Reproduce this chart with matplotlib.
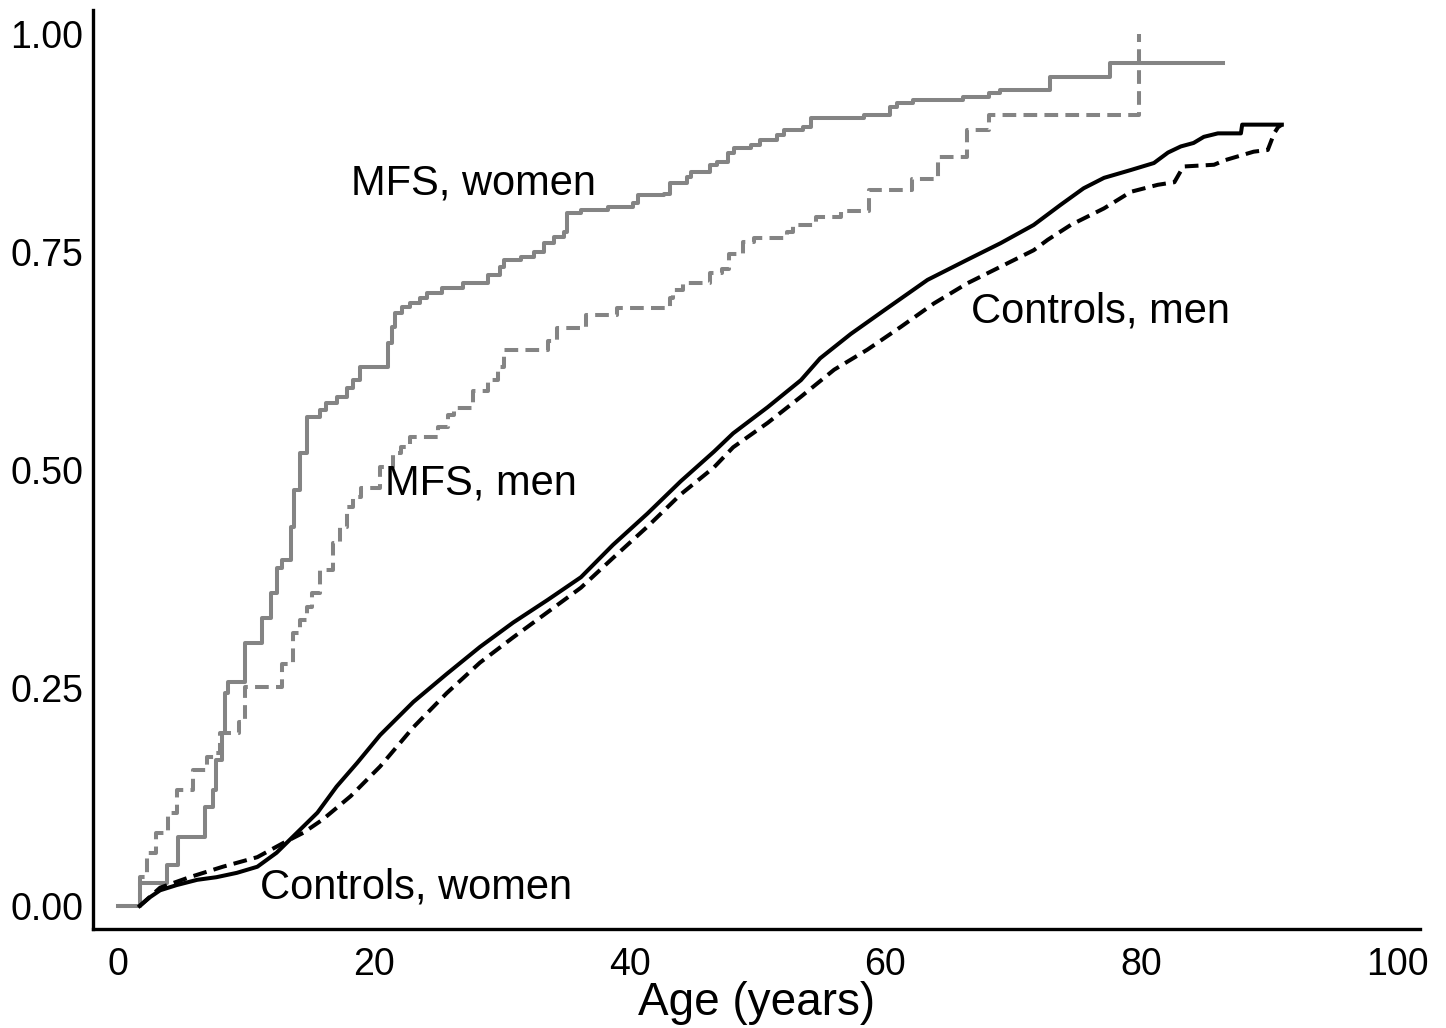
import matplotlib
matplotlib.use("Agg")
import matplotlib.pyplot as plt

plt.rcParams['font.family'] = ['Liberation Sans', 'DejaVu Sans']

# ---- data ----
# MFS, women (solid grey step curve)
mfs_women_age = [0, 1.7, 3.8, 4.7, 6.8, 7.4, 7.7, 8.1, 8.4, 8.6, 9.9, 11.3, 12.0, 12.4, 12.8,
                 13.5, 13.8, 14.2, 14.8, 15.8, 16.3, 17.1, 17.9, 18.4, 18.9, 21.1, 21.4, 21.7,
                 22.2, 22.8, 23.6, 24.2, 25.3, 27.0, 28.9, 29.9, 30.2, 31.5, 32.5, 33.3, 34.1,
                 34.9, 35.1, 36.2, 38.3, 40.3, 40.7, 42.7, 43.2, 44.5, 44.8, 46.3, 46.8, 47.7,
                 48.2, 49.5, 50.2, 51.5, 52.1, 53.6, 54.2, 58.3, 60.4, 60.9, 62.2, 66.1, 68.1,
                 69.0, 72.9, 77.6, 86.4]
mfs_women_cum = [0.0, 0.026, 0.047, 0.079, 0.114, 0.133, 0.167, 0.198, 0.244, 0.257, 0.302,
                 0.330, 0.359, 0.388, 0.397, 0.435, 0.477, 0.520, 0.561, 0.569, 0.577, 0.584,
                 0.594, 0.603, 0.618, 0.646, 0.664, 0.680, 0.687, 0.691, 0.697, 0.703, 0.709,
                 0.714, 0.724, 0.733, 0.741, 0.744, 0.750, 0.760, 0.767, 0.773, 0.795, 0.798,
                 0.802, 0.806, 0.815, 0.817, 0.829, 0.836, 0.842, 0.850, 0.853, 0.864, 0.869,
                 0.873, 0.878, 0.884, 0.890, 0.893, 0.904, 0.907, 0.916, 0.921, 0.924, 0.928,
                 0.932, 0.936, 0.951, 0.967, 0.967]

# MFS, men (dashed grey step curve)
mfs_men_age = [0, 1.7, 2.3, 3.0, 3.9, 4.6, 5.9, 7.0, 7.7, 8.0, 9.5, 9.9, 12.8, 13.7, 14.2,
               14.8, 15.2, 15.8, 16.8, 17.4, 17.9, 18.4, 19.0, 20.5, 21.5, 22.1, 22.8, 25.0,
               25.8, 26.3, 27.8, 28.9, 29.7, 30.2, 33.6, 34.3, 36.6, 39.0, 43.2, 43.4, 44.2,
               46.3, 47.2, 47.8, 48.9, 49.7, 52.3, 52.8, 54.6, 56.5, 58.7, 62.1, 64.1, 66.4,
               68.1, 79.8]
mfs_men_cum = [0.0, 0.033, 0.061, 0.084, 0.107, 0.133, 0.156, 0.171, 0.175, 0.198, 0.211,
               0.251, 0.278, 0.313, 0.328, 0.343, 0.359, 0.385, 0.416, 0.435, 0.458, 0.469,
               0.479, 0.503, 0.519, 0.526, 0.538, 0.549, 0.563, 0.571, 0.590, 0.603, 0.618,
               0.638, 0.648, 0.663, 0.678, 0.686, 0.697, 0.706, 0.714, 0.726, 0.730, 0.748,
               0.761, 0.766, 0.773, 0.781, 0.790, 0.797, 0.821, 0.834, 0.859, 0.890, 0.907,
               1.0]

# Controls, women (solid black)
ctrl_women_age = [1.7, 2.5, 3.3, 4.6, 6.2, 7.7, 9.3, 10.9, 12.4, 14.0, 15.6, 17.1, 18.7, 20.5,
                  23.1, 25.7, 28.3, 30.9, 33.6, 36.2, 38.7, 41.4, 44.0, 46.6, 48.1, 50.8, 53.4,
                  54.9, 57.3, 59.9, 63.3, 66.4, 69.0, 71.6, 73.7, 75.5, 77.1, 79.2, 81.0, 82.1,
                  83.1, 84.1, 84.9, 86.0, 87.8, 87.9, 91.0]
ctrl_women_cum = [0.0, 0.010, 0.018, 0.024, 0.030, 0.033, 0.038, 0.045, 0.061, 0.084, 0.107,
                  0.137, 0.164, 0.196, 0.234, 0.266, 0.297, 0.325, 0.351, 0.377, 0.414, 0.450,
                  0.487, 0.521, 0.542, 0.572, 0.603, 0.628, 0.656, 0.683, 0.718, 0.741, 0.760,
                  0.781, 0.804, 0.823, 0.835, 0.844, 0.852, 0.864, 0.871, 0.875, 0.882, 0.886,
                  0.886, 0.896, 0.896]

# Controls, men (dashed black)
ctrl_men_age = [1.7, 3.3, 5.6, 8.2, 10.9, 12.9, 14.5, 16.0, 18.2, 20.5, 23.1, 25.7, 28.3, 30.9,
                33.6, 36.2, 38.7, 41.4, 44.0, 46.6, 48.1, 50.8, 53.4, 56.0, 58.6, 61.2, 63.8,
                66.4, 69.0, 71.6, 72.7, 74.5, 77.1, 79.2, 81.3, 82.6, 83.3, 85.7, 86.5, 88.8,
                89.9, 90.4, 90.7, 91.0]
ctrl_men_cum = [0.0, 0.021, 0.033, 0.045, 0.056, 0.072, 0.084, 0.099, 0.126, 0.160, 0.205,
                0.244, 0.279, 0.308, 0.337, 0.365, 0.399, 0.435, 0.472, 0.503, 0.526, 0.554,
                0.584, 0.615, 0.638, 0.664, 0.691, 0.714, 0.733, 0.752, 0.764, 0.781, 0.800,
                0.819, 0.827, 0.830, 0.848, 0.850, 0.855, 0.865, 0.867, 0.886, 0.893, 0.896]

labels = ["MFS, women", "MFS, men", "Controls, men", "Controls, women"]
x_ticks = [0, 20, 40, 60, 80, 100]
y_ticks = [0.00, 0.25, 0.50, 0.75, 1.00]

# ---- figure ----
fig = plt.figure(figsize=(14.46, 10.28), dpi=100)
ax = fig.add_axes([0.0643, 0.0963, 0.9177, 0.8940])

grey = '#848484'
lw = 2.9
dash = (3.4, 1.8)

ax.plot(ctrl_men_age, ctrl_men_cum, color='black', lw=lw, ls=(0, dash),
        dash_capstyle='butt', zorder=3)
ax.plot(ctrl_women_age, ctrl_women_cum, color='black', lw=lw, zorder=4)
ax.plot(mfs_men_age, mfs_men_cum, color=grey, lw=lw, ls=(0, dash),
        drawstyle='steps-post', dash_capstyle='butt', zorder=2)
ax.plot(mfs_women_age, mfs_women_cum, color=grey, lw=lw,
        drawstyle='steps-post', zorder=2)

fs_lab = 30
ax.text(18.2, 0.829, labels[0], fontsize=fs_lab, ha='left', va='center')
ax.text(20.9, 0.485, labels[1], fontsize=fs_lab, ha='left', va='center')
ax.text(66.7, 0.682, labels[2], fontsize=fs_lab, ha='left', va='center')
ax.text(11.1, 0.021, labels[3], fontsize=fs_lab, ha='left', va='center')

ax.set_xlim(-1.95, 101.8)
ax.set_ylim(-0.0264, 1.0275)
ax.set_xticks(x_ticks)
ax.set_xticklabels([str(v) for v in x_ticks])
ax.set_yticks(y_ticks)
ax.set_yticklabels([f"{v:.2f}" for v in y_ticks])
ax.tick_params(axis='both', length=0, labelsize=27, colors='black')
ax.tick_params(axis='x', pad=13)
ax.tick_params(axis='y', pad=7)

for s in ['top', 'right']:
    ax.spines[s].set_visible(False)
for s in ['left', 'bottom']:
    ax.spines[s].set_linewidth(2.4)
    ax.spines[s].set_color('black')

ax.set_xlabel("Age (years)", fontsize=33)
ax.xaxis.set_label_coords(0.5, -0.057)

fig.savefig("out.png", dpi=100, facecolor='white')
